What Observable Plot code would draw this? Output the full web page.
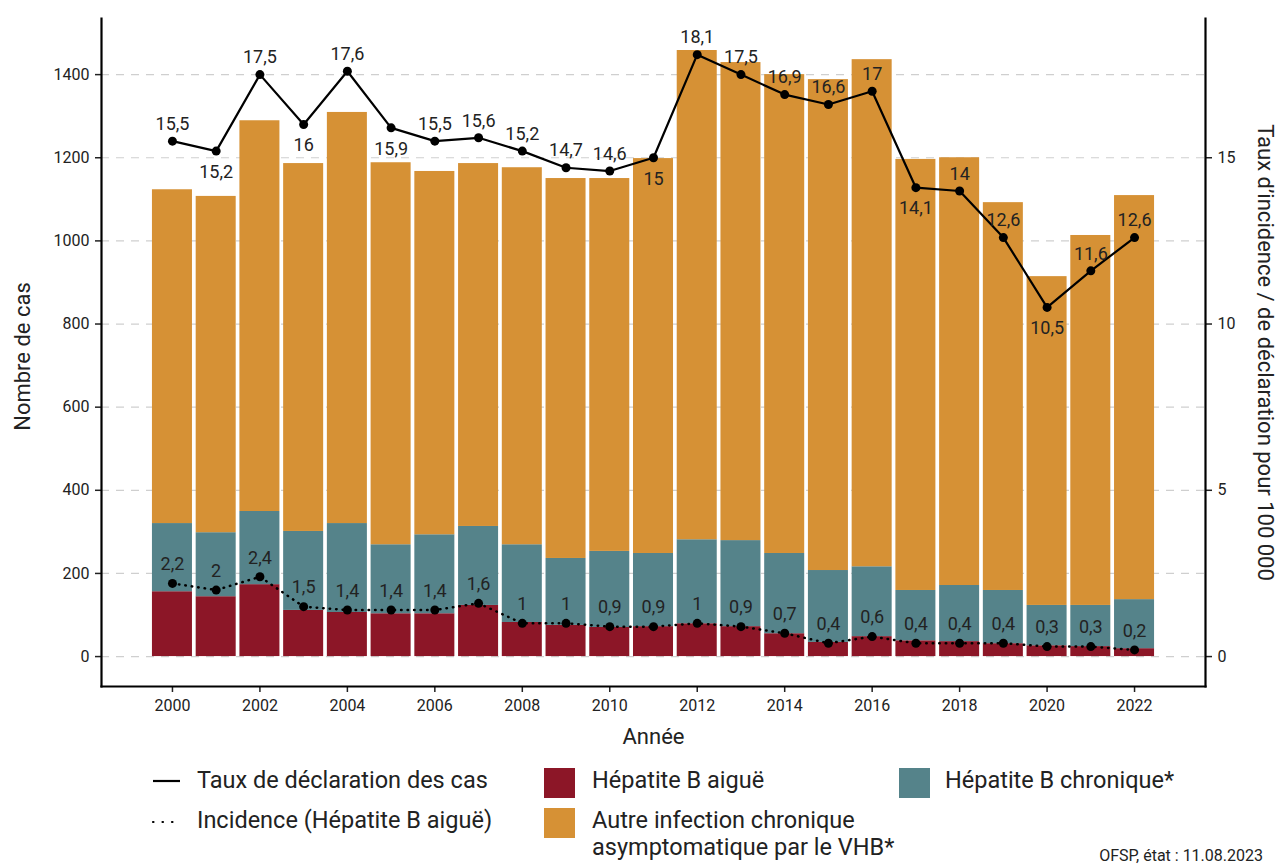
<!DOCTYPE html>
<html>
<head>
<meta charset="utf-8">
<script src="https://cdn.jsdelivr.net/npm/d3@7"></script>
<script src="https://cdn.jsdelivr.net/npm/@observablehq/plot@0.6"></script>
<style>
  html, body { margin: 0; padding: 0; background: #fff; }
  body { font-family: Roboto, "Noto Sans", sans-serif; color: #222; }
  #wrap { position: relative; width: 1277px; height: 864px; overflow: hidden; }
  #chart svg { display: block; }
  .lg { position: absolute; font-size: 23.5px; line-height: 27px; color: #222; white-space: nowrap; }
  .sw { position: absolute; width: 31px; height: 30px; }
  .cap { position: absolute; right: 14px; top: 846px; font-size: 16px; color: #222; }
</style>
</head>
<body>
<div id="wrap">
  <div id="chart"></div>
  <svg style="position:absolute;left:150px;top:770px" width="40" height="60">
    <line x1="3" y1="11" x2="30" y2="11" stroke="#000" stroke-width="2.2"/>
    <line x1="3" y1="52" x2="30" y2="52" stroke="#000" stroke-width="2.2" stroke-dasharray="0.5,9" stroke-linecap="round"/>
  </svg>
  <div class="lg" style="left:197px;top:767px">Taux de déclaration des cas</div>
  <div class="lg" style="left:197px;top:807px">Incidence (Hépatite B aiguë)</div>
  <div class="sw" style="left:544px;top:768px;background:#8c1627"></div>
  <div class="lg" style="left:592px;top:767px">Hépatite B aiguë</div>
  <div class="sw" style="left:544px;top:808px;background:#d69135"></div>
  <div class="lg" style="left:592px;top:807px">Autre infection chronique<br>asymptomatique par le VHB*</div>
  <div class="sw" style="left:899px;top:768px;background:#55838a"></div>
  <div class="lg" style="left:945px;top:767px">Hépatite B chronique*</div>
  <div class="cap">OFSP, état : 11.08.2023</div>
</div>
<script>
const years = [2000,2001,2002,2003,2004,2005,2006,2007,2008,2009,2010,2011,2012,2013,2014,2015,2016,2017,2018,2019,2020,2021,2022];
const acute   = [156,144,173,111,106,103,103,123, 82, 75, 70, 72, 79, 72, 55, 34, 48, 38, 36, 31, 26, 24, 19];
const chronic = [164,154,176,190,214,166,190,190,187,161,183,176,202,207,193,173,168,121,135,128, 97, 99,118];
const other   = [803,809,940,885,989,919,874,873,907,914,897,950,1177,1150,1152,1181,1220,1037,1029,933,791,890,972];
const rate      = [15.5,15.2,17.5,16,17.6,15.9,15.5,15.6,15.2,14.7,14.6,15,18.1,17.5,16.9,16.6,17,14.1,14,12.6,10.5,11.6,12.6];
const incidence = [2.2,2,2.4,1.5,1.4,1.4,1.4,1.6,1,1,0.9,0.9,1,0.9,0.7,0.4,0.6,0.4,0.4,0.4,0.3,0.3,0.2];
const rateLabelBelow = [2001,2003,2005,2011,2017,2020];
const seriesNames = ["Hépatite B aiguë","Hépatite B chronique*","Autre infection chronique asymptomatique par le VHB*"];
const seriesColors = ["#8c1627","#55838a","#d69135"];
const leftTicks = [0,200,400,600,800,1000,1200,1400];
const rightTicks = [0,5,10,15];
const xTicks = [2000,2002,2004,2006,2008,2010,2012,2014,2016,2018,2020,2022];
const K = 80; // cases per rate unit (right axis scale)

const bars = [];
years.forEach((y, i) => {
  bars.push({year: y, series: seriesNames[0], value: acute[i]});
  bars.push({year: y, series: seriesNames[1], value: chronic[i]});
  bars.push({year: y, series: seriesNames[2], value: other[i]});
});
const pts = years.map((y, i) => ({year: y, rate: rate[i], inc: incidence[i]}));
const fmt = v => String(v).replace(".", ",");

const chart = Plot.plot({
  width: 1277,
  height: 750,
  marginTop: 18,
  marginBottom: 64,
  marginLeft: 101,
  marginRight: 72,
  style: {fontFamily: "Roboto, 'Noto Sans', sans-serif", fontSize: "15px", color: "#222", background: "#fff"},
  x: {type: "band", domain: years, paddingInner: 0.085, paddingOuter: 1.165, align: 0.5, round: false},
  y: {domain: [-72, 1535]},
  color: {domain: seriesNames, range: seriesColors},
  marks: [
    Plot.gridY(leftTicks, {stroke: "#cfcfcf", strokeOpacity: 1, strokeWidth: 1.2, strokeDasharray: "8,7"}),
    Plot.barY(bars, {x: "year", y: "value", fill: "series", order: seriesNames}),
    Plot.line(pts, {x: "year", y: d => d.inc * K, stroke: "#000", strokeWidth: 2.5, strokeDasharray: "0.5,6", strokeLinecap: "round"}),
    Plot.dot(pts, {x: "year", y: d => d.inc * K, r: 4.5, fill: "#000", stroke: "none"}),
    Plot.text(pts, {x: "year", y: d => d.inc * K, text: d => fmt(d.inc), dy: -19, fontSize: 18, fill: "#222"}),
    Plot.line(pts, {x: "year", y: d => d.rate * K, stroke: "#000", strokeWidth: 2.2}),
    Plot.dot(pts, {x: "year", y: d => d.rate * K, r: 4.5, fill: "#000", stroke: "none"}),
    Plot.text(pts.filter(d => !rateLabelBelow.includes(d.year)), {x: "year", y: d => d.rate * K, text: d => fmt(d.rate), dy: -17, fontSize: 18, fill: "#222"}),
    Plot.text(pts.filter(d => rateLabelBelow.includes(d.year)), {x: "year", y: d => d.rate * K, text: d => fmt(d.rate), dy: 21, fontSize: 18, fill: "#222"}),
    Plot.axisX({ticks: xTicks, tickSize: 6, tickPadding: 7, tickFormat: d => String(d), label: null, fontSize: 16, strokeWidth: 1.5}),
    Plot.axisY({ticks: leftTicks, anchor: "left", tickSize: 6, tickPadding: 6, tickFormat: d => String(d), label: null, fontSize: 16, strokeWidth: 1.5}),
    Plot.axisY({ticks: rightTicks.map(v => v * K), anchor: "right", tickSize: 6, tickPadding: 6, tickFormat: v => String(v / K), label: null, fontSize: 16, strokeWidth: 1.5}),
    Plot.frame({anchor: "left", stroke: "#000", strokeWidth: 2.2}),
    Plot.frame({anchor: "right", stroke: "#000", strokeWidth: 2.2}),
    Plot.frame({anchor: "bottom", stroke: "#000", strokeWidth: 2.2}),
    Plot.text(["Nombre de cas"], {frameAnchor: "left", textAnchor: "middle", dx: -79, dy: 4, rotate: -90, fontSize: 22, fill: "#222"}),
    Plot.text(["Taux d’incidence / de déclaration pour 100 000"], {frameAnchor: "right", textAnchor: "middle", dx: 60, dy: 0, rotate: 90, fontSize: 22, fill: "#222"}),
    Plot.text(["Année"], {frameAnchor: "bottom", textAnchor: "middle", dy: 57, fontSize: 22, fill: "#222"})
  ]
});
document.getElementById("chart").appendChild(chart);
</script>
</body>
</html>
